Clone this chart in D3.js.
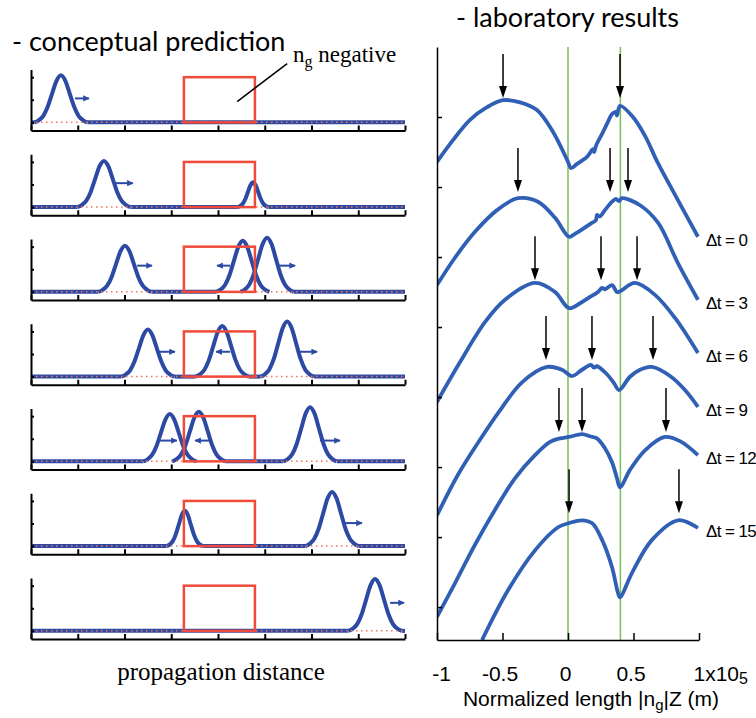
<!DOCTYPE html>
<html>
<head>
<meta charset="utf-8">
<script src="https://cdn.jsdelivr.net/npm/d3@7"></script>
<style>
  body { margin: 0; background: #fff; }
  svg { display: block; }
</style>
</head>
<body>
<svg width="756" height="718"></svg>
<script>
// ---------- left panel : conceptual prediction ----------
var rows = [0, 1, 2, 3, 4, 5, 6];
var boxStart = 3.27, boxEnd = 4.79, boxTop = 1.0;

// pulses in each row : [centre, height, width]
var pulses = [
  [[0.64, 1.04, 0.19]],
  [[1.56, 1.02, 0.19], [4.75, 0.55, 0.11]],
  [[2.01, 1.02, 0.19], [4.53, 1.13, 0.19], [5.05, 1.20, 0.19]],
  [[2.50, 1.04, 0.19], [4.09, 1.12, 0.19], [5.48, 1.22, 0.19]],
  [[2.97, 1.05, 0.19], [3.59, 1.10, 0.19], [5.97, 1.20, 0.19]],
  [[3.29, 0.78, 0.13], [6.44, 1.20, 0.19]],
  [[7.36, 1.15, 0.19]]
];

// travel arrows in each row : [from, to, level]
var pulseArrows = [
  [[0.94, 1.24, 0.53]],
  [[1.80, 2.18, 0.53]],
  [[2.27, 2.59, 0.58], [4.26, 3.98, 0.58], [5.28, 5.65, 0.58]],
  [[2.72, 3.08, 0.55], [4.26, 3.96, 0.55], [5.71, 6.12, 0.55]],
  [[2.76, 3.12, 0.46], [3.83, 3.51, 0.46], [6.18, 6.61, 0.46]],
  [[6.72, 7.08, 0.51]],
  [[7.68, 7.98, 0.62]]
];

// bell profile of one pulse : [offset in widths, relative height]
var pulseShape = [[-3, 0], [-2.5, 0.044], [-2, 0.135], [-1.5, 0.325], [-1, 0.607], [-0.5, 0.882],
  [0, 1], [0.5, 0.882], [1, 0.607], [1.5, 0.325], [2, 0.135], [2.5, 0.044], [3, 0]];

// ---------- right panel : laboratory results ----------
var labTimes = [0, 3, 6, 9, 12, 15];
var labCurves = [
  [[-1.0, 6.36], [-0.878, 6.67], [-0.748, 6.96], [-0.618, 7.14], [-0.496, 7.24], [-0.366, 7.21], [-0.237, 7.10],
   [-0.115, 6.79], [0.0, 6.36], [0.023, 6.27], [0.069, 6.33], [0.145, 6.43], [0.191, 6.54], [0.200, 6.50],
   [0.214, 6.59], [0.26, 6.76], [0.305, 6.93], [0.336, 7.04], [0.366, 7.07], [0.374, 7.02], [0.397, 7.16],
   [0.496, 7.0], [0.588, 6.73], [0.687, 6.34], [0.84, 5.81], [0.992, 5.29]],
  [[-1.0, 4.60], [-0.863, 4.99], [-0.71, 5.36], [-0.542, 5.67], [-0.382, 5.84], [-0.229, 5.79], [-0.099, 5.56],
   [0.008, 5.29], [0.053, 5.33], [0.168, 5.47], [0.214, 5.53], [0.221, 5.60], [0.244, 5.58], [0.282, 5.67],
   [0.336, 5.79], [0.366, 5.83], [0.389, 5.80], [0.412, 5.84], [0.55, 5.74], [0.687, 5.49], [0.84, 4.91], [0.992, 4.39]],
  [[-1.0, 2.93], [-0.824, 3.50], [-0.634, 4.07], [-0.481, 4.39], [-0.252, 4.63], [-0.099, 4.50], [0.008, 4.27],
   [0.092, 4.34], [0.168, 4.43], [0.229, 4.50], [0.260, 4.56], [0.282, 4.54], [0.336, 4.60], [0.374, 4.50],
   [0.397, 4.51], [0.511, 4.63], [0.664, 4.46], [0.817, 4.13], [0.992, 3.63]],
  [[-1.0, 1.31], [-0.840, 1.89], [-0.672, 2.39], [-0.519, 2.81], [-0.351, 3.21], [-0.160, 3.43], [-0.046, 3.39],
   [0.031, 3.30], [0.107, 3.39], [0.176, 3.46], [0.198, 3.42], [0.221, 3.44], [0.29, 3.34], [0.351, 3.20],
   [0.389, 3.10], [0.473, 3.29], [0.55, 3.39], [0.641, 3.43], [0.779, 3.30], [0.893, 3.10], [0.992, 2.86]],
  [[-1.0, -0.14], [-0.863, 0.34], [-0.71, 0.89], [-0.557, 1.39], [-0.405, 1.84], [-0.252, 2.17], [-0.137, 2.36],
   [-0.061, 2.41], [0.008, 2.43], [0.107, 2.47], [0.168, 2.44], [0.221, 2.41], [0.282, 2.27], [0.336, 2.07],
   [0.374, 1.84], [0.397, 1.71], [0.473, 1.96], [0.588, 2.24], [0.740, 2.43], [0.855, 2.37], [0.992, 2.17]],
  [[-0.656, -0.47], [-0.458, 0.24], [-0.252, 0.81], [-0.076, 1.14], [0.008, 1.20], [0.107, 1.24], [0.183, 1.20],
   [0.26, 0.96], [0.336, 0.57], [0.382, 0.20], [0.397, 0.14], [0.489, 0.49], [0.641, 0.96], [0.840, 1.24], [0.992, 1.13]]
];
// peak markers : x positions and arrow tip level for each curve
var labArrows = [
  [-0.496, 0.397],
  [-0.382, 0.321, 0.458],
  [-0.252, 0.252, 0.527],
  [-0.168, 0.183, 0.649],
  [-0.069, 0.107, 0.748],
  [0.008, 0.847]
];
var arrowTips = [7.27, 5.93, 4.67, 3.53, 2.50, 1.34];
var slabEdges = [0, 0.4];
var xTickValues = [-1, -0.5, 0, 0.5, 1];
var xTickLabels = ["-1", "-0.5", "0", "0.5", "1x10"];
var yTickValues = [0, 1, 2, 3, 4, 5, 6, 7];

var svg = d3.select("svg");
var blue = "#2c4aa3", red = "#ef4a3a", labBlue = "#3060b5", green = "#78bf58";

svg.append("defs").append("marker")
    .attr("id", "bluehead")
    .attr("viewBox", "0 0 10 10")
    .attr("refX", 9).attr("refY", 5)
    .attr("markerWidth", 3.2).attr("markerHeight", 3.2)
    .attr("orient", "auto")
  .append("path")
    .attr("d", "M0,0L10,5L0,10z")
    .attr("fill", blue);

// titles
svg.append("text")
    .attr("x", 12).attr("y", 51)
    .attr("font-family", "Lato, 'Open Sans', sans-serif")
    .attr("font-size", 27)
    .text("- conceptual prediction");

svg.append("text")
    .attr("x", 456).attr("y", 27)
    .attr("font-family", "Lato, 'Open Sans', sans-serif")
    .attr("font-size", 27)
    .text("-  laboratory results");

// ---------- draw left panel ----------
var xL = d3.scaleLinear().domain([0, 8]).range([31, 405]);
var rowY = d3.scalePoint().domain(rows).range([130.5, 639]);

var bell = d3.line()
    .x(function(d) { return d[0]; })
    .y(function(d) { return d[1]; })
    .curve(d3.curveMonotoneX);

rows.forEach(function(r) {
  var y = d3.scaleLinear().domain([-0.18, 1.17]).range([rowY(r), rowY(r) - 61]);
  var g = svg.append("g");

  // flat parts of the signal between the pulses
  var list = pulses[r].slice().sort(function(a, b) { return a[0] - b[0]; });
  var start = 0;
  list.forEach(function(p) {
    var end = p[0] - 3 * p[2];
    if (end > start) {
      g.append("line")
          .attr("x1", xL(start)).attr("x2", xL(end))
          .attr("y1", y(0)).attr("y2", y(0))
          .attr("stroke", blue).attr("stroke-width", 4);
    }
    start = Math.max(start, p[0] + 3 * p[2]);
  });
  if (start < 8) {
    g.append("line")
        .attr("x1", xL(start)).attr("x2", xL(8))
        .attr("y1", y(0)).attr("y2", y(0))
        .attr("stroke", blue).attr("stroke-width", 4);
  }

  // pulses
  list.forEach(function(p) {
    g.append("path")
        .datum(pulseShape.map(function(s) { return [xL(p[0] + s[0] * p[2]), y(s[1] * p[1])]; }))
        .attr("fill", "none")
        .attr("stroke", blue)
        .attr("stroke-width", 4)
        .attr("stroke-linejoin", "round")
        .attr("d", bell);
  });

  // zero line
  g.append("line")
      .attr("x1", xL(0)).attr("x2", xL(8))
      .attr("y1", y(0)).attr("y2", y(0))
      .attr("stroke", "#f3735a").attr("stroke-width", 1.5)
      .attr("stroke-dasharray", "1.5,3.5");

  // negative index slab
  g.append("rect")
      .attr("x", xL(boxStart)).attr("y", y(boxTop))
      .attr("width", xL(boxEnd) - xL(boxStart))
      .attr("height", y(0) - y(boxTop))
      .attr("fill", "none")
      .attr("stroke", red)
      .attr("stroke-width", 2.5);

  // arrows
  pulseArrows[r].forEach(function(a) {
    g.append("line")
        .attr("x1", xL(a[0])).attr("x2", xL(a[1]))
        .attr("y1", y(a[2])).attr("y2", y(a[2]))
        .attr("stroke", blue).attr("stroke-width", 2)
        .attr("marker-end", "url(#bluehead)");
  });

  // axes
  g.append("g")
      .attr("transform", "translate(0," + rowY(r) + ")")
      .call(d3.axisBottom(xL).tickValues(d3.range(0, 9)).tickSizeInner(-5).tickSizeOuter(0).tickFormat(""))
      .call(function(a) { a.selectAll("path, line").attr("stroke", "#000").attr("stroke-width", 2); });
  g.append("g")
      .attr("transform", "translate(" + xL(0) + ",0)")
      .call(d3.axisLeft(y).tickValues([0, 0.5, 1]).tickSizeInner(-3).tickSizeOuter(0).tickFormat(""))
      .call(function(a) { a.selectAll("path, line").attr("stroke", "#000").attr("stroke-width", 2); });

  if (r === 0) {
    g.append("line")
        .attr("x1", xL(4.41)).attr("y1", y(0.46))
        .attr("x2", xL(5.48)).attr("y2", y(1.3))
        .attr("stroke", "#000").attr("stroke-width", 1.5);
    var t = g.append("text")
        .attr("x", 293).attr("y", 62)
        .attr("font-family", "'Liberation Serif', 'Times New Roman', serif")
        .attr("font-size", 23);
    t.append("tspan").text("n");
    t.append("tspan").attr("font-size", 16).attr("dy", 5).text("g");
    t.append("tspan").attr("dy", -5).text(" negative");
  }
});

svg.append("text")
    .attr("x", 221).attr("y", 680)
    .attr("text-anchor", "middle")
    .attr("font-family", "'Liberation Serif', 'Times New Roman', serif")
    .attr("font-size", 25)
    .text("propagation distance");

// ---------- draw right panel ----------
var xR = d3.scaleLinear().domain([-1, 1]).range([437, 699]);
var yR = d3.scaleLinear().domain([-0.47, 8]).range([640, 47]);

svg.append("clipPath").attr("id", "plot")
  .append("rect")
    .attr("x", xR(-1)).attr("y", yR(8))
    .attr("width", xR(1) - xR(-1) + 2).attr("height", yR(-0.47) - yR(8));

var gR = svg.append("g");

slabEdges.forEach(function(e) {
  gR.append("line")
      .attr("x1", xR(e)).attr("x2", xR(e))
      .attr("y1", yR(8)).attr("y2", yR(-0.47))
      .attr("stroke", green).attr("stroke-width", 1.5);
});

var labLine = d3.line()
    .x(function(d) { return xR(d[0]); })
    .y(function(d) { return yR(d[1]); })
    .curve(d3.curveCatmullRom.alpha(0.5));

gR.append("g")
    .attr("clip-path", "url(#plot)")
  .selectAll("path")
  .data(labCurves)
  .enter().append("path")
    .attr("fill", "none")
    .attr("stroke", labBlue)
    .attr("stroke-width", 3.8)
    .attr("stroke-linejoin", "round")
    .attr("d", labLine);

labCurves.forEach(function(c, i) {
  var last = c[c.length - 1];
  gR.append("text")
      .attr("x", xR(last[0]) + 8).attr("y", yR(last[1]) + 3)
      .attr("dy", "0.35em")
      .attr("font-family", "'Liberation Sans', Arial, sans-serif")
      .attr("font-size", 17)
      .attr("letter-spacing", -0.6)
      .text("\u0394t = " + labTimes[i]);

  labArrows[i].forEach(function(ax) {
    var px = xR(ax), tip = yR(arrowTips[i]);
    gR.append("line")
        .attr("x1", px).attr("x2", px)
        .attr("y1", tip - 44).attr("y2", tip - 8)
        .attr("stroke", "#000").attr("stroke-width", 1.5);
    gR.append("path")
        .attr("d", "M" + (px - 4) + "," + (tip - 12) + "L" + (px + 4) + "," + (tip - 12) + "L" + px + "," + tip + "Z")
        .attr("fill", "#000");
  });
});

// axes
var xAxisR = gR.append("g")
    .attr("transform", "translate(0," + yR(-0.47) + ")")
    .call(d3.axisBottom(xR).tickValues(xTickValues).tickSizeInner(-7).tickSizeOuter(0).tickPadding(26)
      .tickFormat(function(d, i) { return xTickLabels[i]; }));
xAxisR.selectAll("path, line").attr("stroke", "#000").attr("stroke-width", 1.5);
xAxisR.selectAll("text")
    .attr("font-family", "'Liberation Sans', Arial, sans-serif")
    .attr("font-size", 21)
    .attr("fill", "#000")
    .attr("dx", function(d) { return d === -1 ? 4 : -3; });
var lastLabel = xAxisR.selectAll("text").filter(function(d) { return d === 1; });
lastLabel.attr("text-anchor", "start").attr("dx", -6);
lastLabel.append("tspan").attr("font-size", 16).attr("dy", 3).text("5");

var yAxisR = gR.append("g")
    .attr("transform", "translate(" + xR(-1) + ",0)")
    .call(d3.axisLeft(yR).tickValues(yTickValues).tickSizeInner(-5).tickSizeOuter(0).tickFormat(""));
yAxisR.selectAll("path, line").attr("stroke", "#000").attr("stroke-width", 1.5);

var xTitle = svg.append("text")
    .attr("x", 591).attr("y", 706)
    .attr("text-anchor", "middle")
    .attr("font-family", "'Liberation Sans', Arial, sans-serif")
    .attr("font-size", 21);
xTitle.append("tspan").text("Normalized length |n");
xTitle.append("tspan").attr("font-size", 15).attr("dy", 4).text("g");
xTitle.append("tspan").attr("dy", -4).text("|Z (m)");
</script>
</body>
</html>
